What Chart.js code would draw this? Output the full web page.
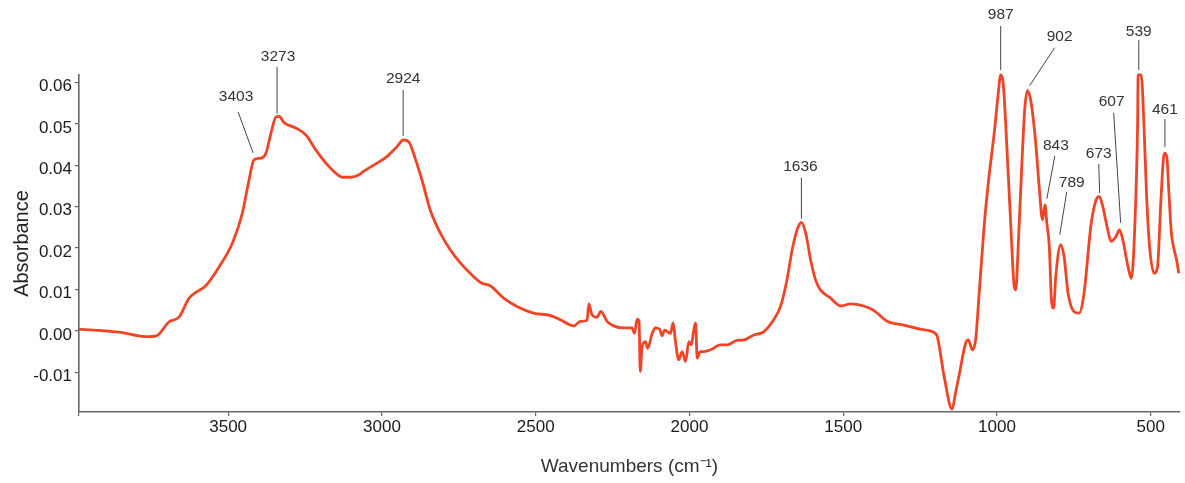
<!DOCTYPE html>
<html lang="en">
<head>
    <meta charset="UTF-8">
    <title>IR Spectrum</title>
    <style>
        html, body {
            margin: 0;
            padding: 0;
            background: #fff;
        }
        .chart-box {
            position: relative;
            width: 1185px;
            height: 483px;
        }
    </style>
    <script src="https://cdn.jsdelivr.net/npm/chart.js"></script>
</head>
<body>
    <div class="chart-box">
        <canvas id="irChart"></canvas>
    </div>
    <script>
        // spectrum (wavenumber, absorbance)
        const wavenumbers = [
            3985, 3920, 3855, 3806, 3768, 3733, 3692, 3660, 3627, 3605, 3573, 3529, 3486, 3454, 3432, 3416,
            3394, 3377, 3361, 3345, 3334, 3318, 3280, 3247, 3215, 3182, 3150, 3128, 3103, 3074, 3060, 3016,
            2984, 2951, 2930, 2913, 2892, 2870, 2843, 2810, 2778, 2745, 2713, 2675, 2648, 2604, 2561, 2507,
            2452, 2420, 2376, 2355, 2333, 2327, 2317, 2301, 2288, 2268, 2246, 2214, 2187, 2179, 2170, 2164,
            2160, 2154, 2143, 2136, 2121, 2111, 2097, 2089, 2081, 2062, 2053, 2046, 2035, 2024, 2013, 2002,
            1994, 1986, 1980, 1975, 1965, 1953, 1932, 1899, 1878, 1845, 1823, 1791, 1769, 1758, 1726, 1704,
            1683, 1666, 1650, 1636, 1622, 1606, 1590, 1574, 1541, 1509, 1476, 1422, 1400, 1357, 1303, 1251,
            1205, 1194, 1172, 1146, 1135, 1124, 1102, 1093, 1080, 1069, 1058, 1042, 1026, 1009, 997, 988,
            979, 968, 955, 944, 939, 932, 921, 910, 901, 890, 874, 863, 852, 844, 838, 830,
            823, 816, 809, 793, 782, 769, 750, 733, 717, 695, 678, 667, 656, 640, 629, 613,
            602, 591, 574, 563, 552, 543, 541, 531, 522, 514, 504, 489, 478, 467, 456, 448,
            441, 433, 424, 416, 409
        ];
        const absorbance = [
            0.0004, 0.0001, -0.0003, -0.0010, -0.0014, -0.0012, 0.0022, 0.0033, 0.0079, 0.0093, 0.0109, 0.0155, 0.0212, 0.0284, 0.0365, 0.0413,
            0.0417, 0.0429, 0.0477, 0.0516, 0.0518, 0.0503, 0.0490, 0.0473, 0.0437, 0.0405, 0.0381, 0.0371, 0.0371, 0.0377, 0.0385, 0.0405,
            0.0421, 0.0445, 0.0461, 0.0457, 0.0417, 0.0365, 0.0292, 0.0236, 0.0196, 0.0164, 0.0139, 0.0115, 0.0109, 0.0079, 0.0059, 0.0043,
            0.0037, 0.0027, 0.0012, 0.0023, 0.0025, 0.0065, 0.0039, 0.0033, 0.0047, 0.0023, 0.0012, 0.0007, 0.0007, -0.0006, 0.0028, 0.0023,
            -0.0098, -0.0038, -0.0026, -0.0042, -0.0006, 0.0007, 0.0004, -0.0012, 0.0002, -0.0006, 0.0019, -0.0022, -0.0070, -0.0050, -0.0074, -0.0026,
            -0.0034, 0.0002, 0.0019, -0.0066, -0.0050, -0.0050, -0.0046, -0.0034, -0.0034, -0.0023, -0.0022, -0.0010, -0.0006, -0.0002, 0.0027, 0.0059,
            0.0123, 0.0196, 0.0244, 0.0262, 0.0236, 0.0171, 0.0123, 0.0099, 0.0079, 0.0060, 0.0065, 0.0057, 0.0049, 0.0023, 0.0014, 0.0004,
            -0.0004, -0.0014, -0.0110, -0.0189, -0.0150, -0.0110, -0.0030, -0.0022, -0.0046, -0.0018, 0.0091, 0.0252, 0.0373, 0.0478, 0.0566, 0.0618,
            0.0590, 0.0445, 0.0252, 0.0107, 0.0099, 0.0188, 0.0373, 0.0534, 0.0580, 0.0555, 0.0453, 0.0349, 0.0268, 0.0304, 0.0260, 0.0204,
            0.0075, 0.0055, 0.0131, 0.0208, 0.0180, 0.0091, 0.0047, 0.0043, 0.0091, 0.0252, 0.0316, 0.0324, 0.0300, 0.0244, 0.0216, 0.0228,
            0.0244, 0.0220, 0.0155, 0.0127, 0.0252, 0.0493, 0.0618, 0.0618, 0.0493, 0.0333, 0.0204, 0.0139, 0.0155, 0.0316, 0.0429, 0.0421,
            0.0333, 0.0236, 0.0196, 0.0171, 0.0139
        ];

        const xTickValues = [3500, 3000, 2500, 2000, 1500, 1000, 500];
        const peakLabels = ['3403', '3273', '2924', '1636', '987', '902', '843', '789', '673', '607', '539', '461'];
        // where each leader line touches the curve
        const peakWn = [3419, 3341, 2931, 1636, 988, 894, 838, 796, 666, 598, 539, 454];
        const peakAb = [0.0430, 0.0524, 0.0471, 0.0271, 0.0630, 0.0592, 0.0319, 0.0232, 0.0333, 0.0261, 0.0630, 0.0444];

        // pixel offsets from the tip: line start and label centre
        const leaderStyle = [
            { sx: -15, sy: -41, lx: -17, ly: -56 },
            { sx: 0, sy: -47, lx: 1, ly: -57 },
            { sx: 0, sy: -46, lx: 0, ly: -57 },
            { sx: 0, sy: -41, lx: -1, ly: -52 },
            { sx: 0, sy: -44, lx: 0, ly: -55 },
            { sx: 25, sy: -38, lx: 30, ly: -49 },
            { sx: 8, sy: -43, lx: 9, ly: -53 },
            { sx: 7, sy: -43, lx: 12, ly: -52 },
            { sx: -1, sy: -29, lx: -1, ly: -39 },
            { sx: -7, sy: -110, lx: -9, ly: -121 },
            { sx: 0, sy: -30, lx: 0, ly: -38 },
            { sx: 0, sy: -28, lx: 0, ly: -37 }
        ];

        const points = wavenumbers.map((w, i) => ({ x: w, y: absorbance[i] }));

        const peakLabelPlugin = {
            id: 'peakLabels',
            afterDatasetsDraw(chart) {
                const ctx = chart.ctx;
                const xs = chart.scales.x, ys = chart.scales.y;
                ctx.save();
                ctx.strokeStyle = '#444';
                ctx.lineWidth = 1;
                ctx.fillStyle = '#333';
                ctx.font = '15.5px "Liberation Sans", Arial, sans-serif';
                ctx.textAlign = 'center';
                ctx.textBaseline = 'middle';
                peakLabels.forEach((txt, i) => {
                    const tx = xs.getPixelForValue(peakWn[i]);
                    const ty = ys.getPixelForValue(peakAb[i]);
                    const s = leaderStyle[i];
                    ctx.beginPath();
                    ctx.moveTo(tx + s.sx, ty + s.sy);
                    ctx.lineTo(tx, ty);
                    ctx.stroke();
                    ctx.fillText(txt, tx + s.lx, ty + s.ly);
                });
                ctx.restore();
            }
        };

        const ctx = document.getElementById('irChart').getContext('2d');
        new Chart(ctx, {
            type: 'line',
            data: {
                datasets: [{
                    data: points,
                    borderColor: '#ef4426',
                    borderWidth: 2.8,
                    pointRadius: 0,
                    cubicInterpolationMode: 'monotone',
                    fill: false,
                    clip: false
                }]
            },
            options: {
                responsive: true,
                maintainAspectRatio: false,
                animation: false,
                parsing: false,
                layout: { padding: { top: 75, right: 5, left: 0, bottom: 0 } },
                plugins: {
                    legend: { display: false },
                    tooltip: { enabled: false }
                },
                scales: {
                    x: {
                        type: 'linear',
                        reverse: true,
                        min: 405,
                        max: 3985,
                        afterFit(scale) { scale.height = 71; },
                        afterBuildTicks(scale) {
                            scale.ticks = [3985].concat(xTickValues).map(v => ({ value: v }));
                        },
                        grid: { drawOnChartArea: false, tickLength: 4, color: '#666', lineWidth: 1.2 },
                        border: { color: '#666', width: 1.6 },
                        ticks: {
                            autoSkip: false,
                            maxRotation: 0,
                            padding: 1,
                            color: '#1a1a1a',
                            font: { family: '"Liberation Sans", Arial, sans-serif', size: 17 },
                            callback: v => (v % 500 === 0 ? String(v) : '')
                        },
                        title: {
                            display: true,
                            text: 'Wavenumbers (cm\u207B\u00B9)',
                            color: '#333',
                            font: { family: '"Liberation Sans", Arial, sans-serif', size: 19 },
                            padding: { top: 0, bottom: 5 }
                        }
                    },
                    y: {
                        min: -0.0196,
                        max: 0.0618,
                        afterFit(scale) { scale.width = 79; },
                        grid: { drawOnChartArea: false, tickLength: 4, color: '#666', lineWidth: 1.2 },
                        border: { color: '#666', width: 1.6 },
                        ticks: {
                            stepSize: 0.01,
                            includeBounds: false,
                            padding: 3,
                            labelOffset: 4,
                            color: '#1a1a1a',
                            font: { family: '"Liberation Sans", Arial, sans-serif', size: 17 },
                            callback: v => v.toFixed(2)
                        },
                        title: {
                            display: true,
                            text: 'Absorbance',
                            color: '#222',
                            font: { family: '"Liberation Sans", Arial, sans-serif', size: 20 },
                            padding: { top: 10, bottom: 0 }
                        }
                    }
                }
            },
            plugins: [peakLabelPlugin]
        });
    </script>
</body>
</html>
